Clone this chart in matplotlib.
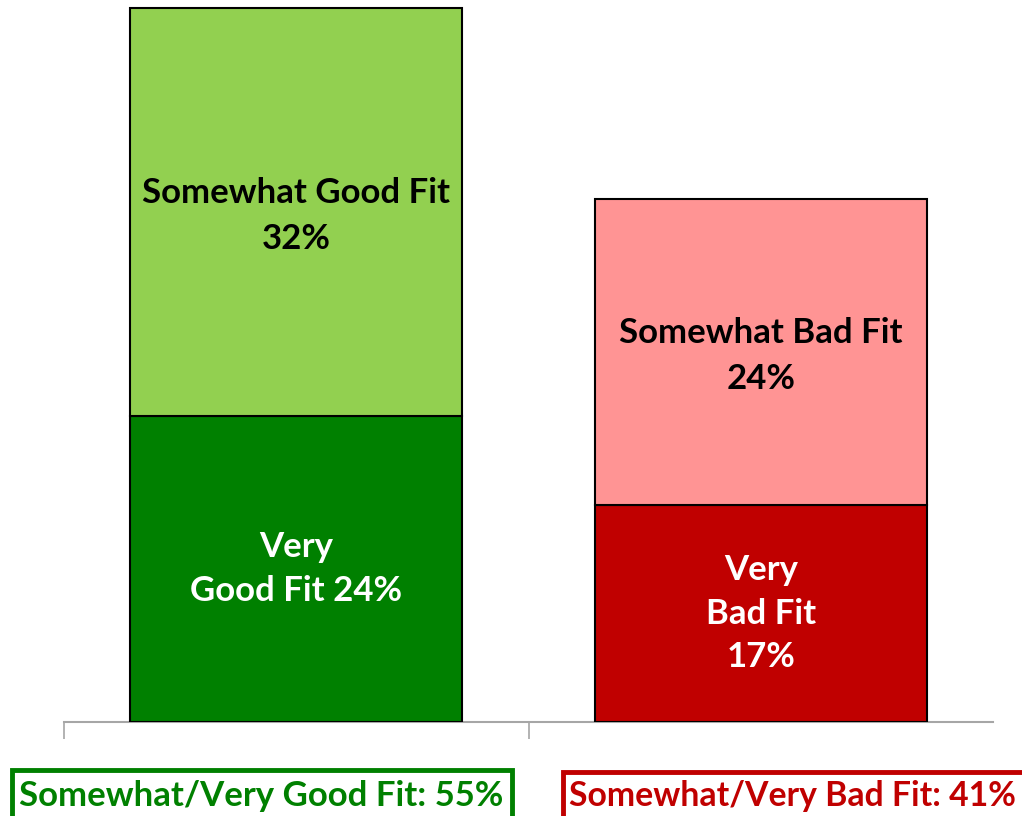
import numpy as np
import matplotlib.pyplot as plt
from matplotlib.patches import Rectangle

plt.rcParams['font.family'] = ['Lato', 'DejaVu Sans']

# Survey answer shares (percent)
groups = ['Good', 'Bad']
very = [24, 17]
somewhat = [32, 24]
very_labels = ['Very\nGood Fit 24%', 'Very\nBad Fit\n17%']
somewhat_labels = ['Somewhat Good Fit\n32%', 'Somewhat Bad Fit\n24%']
totals = ['Somewhat/Very Good Fit: 55%', 'Somewhat/Very Bad Fit: 41%']

very_colors = ['#008000', '#C00000']
somewhat_colors = ['#92D050', '#FF9494']
total_colors = ['#008000', '#C00000']

W, H = 1022, 816
fig = plt.figure(figsize=(W / 100, H / 100), dpi=100)
ax = fig.add_axes([64 / W, 94 / H, 929 / W, 722 / H])

x = np.arange(len(groups))
w = 0.715
ax.bar(x, very, w, color=very_colors, edgecolor='black', linewidth=1.5, zorder=3)
ax.bar(x, somewhat, w, bottom=very, color=somewhat_colors, edgecolor='black',
       linewidth=1.5, zorder=3)

for i in range(len(groups)):
    ax.text(x[i], very[i] / 2, very_labels[i], ha='center', va='center',
            color='white', fontsize=25, fontweight='bold', linespacing=1.45)
    ax.text(x[i], very[i] + somewhat[i] / 2 - 0.3, somewhat_labels[i], ha='center',
            va='center', color='black', fontsize=25, fontweight='bold',
            linespacing=1.55)

ax.set_xlim(-0.5, 1.5)
ax.set_ylim(0, 722 / 12.75)
ax.set_yticks([])
ax.set_xticks([-0.5, 0.5])
ax.set_xticklabels([])
ax.tick_params(axis='x', length=12, width=1.2, color='#A6A6A6')
for s in ['top', 'left', 'right']:
    ax.spines[s].set_visible(False)
ax.spines['bottom'].set_color('#A6A6A6')
ax.spines['bottom'].set_linewidth(1.5)

# summary boxes under each bar (pixel extents, figure runs over the lower edge)
boxes = [(12, 512, 770), (563, 1030, 772)]
text_x = [261, 792]
text_size = [25, 24.3]
for i in range(len(groups)):
    x0, x1, top = boxes[i]
    fig.patches.append(Rectangle((x0 / W, -0.02), (x1 - x0) / W, (H - top) / H + 0.02,
                                 transform=fig.transFigure, facecolor='white',
                                 edgecolor=total_colors[i], linewidth=3.5))
    fig.text(text_x[i] / W, 20 / H, totals[i], ha='center', va='center',
             color=total_colors[i], fontsize=text_size[i], fontweight='bold')

fig.savefig('out.png', dpi=100)
